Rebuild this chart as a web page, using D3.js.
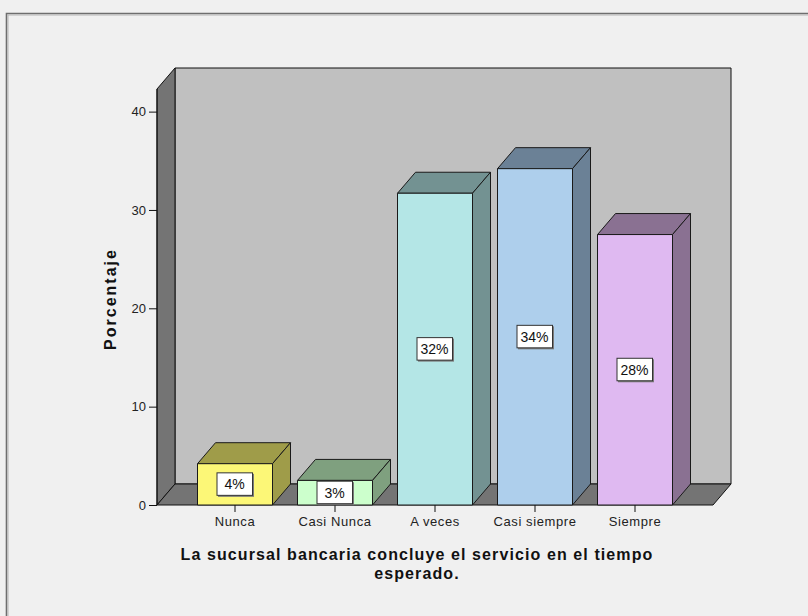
<!DOCTYPE html>
<html>
<head>
<meta charset="utf-8">
<script src="https://cdn.jsdelivr.net/npm/d3@7"></script>
<style>
  html, body { margin: 0; padding: 0; background: #f0f0f0; }
  svg { display: block; }
  text { font-family: "Liberation Sans", Arial, sans-serif; }
</style>
</head>
<body>
<svg id="chart" width="808" height="616"></svg>
<script>
// Response categories and their percentages
const categories = ["Nunca", "Casi Nunca", "A veces", "Casi siempre", "Siempre"];
const percentages = [4.2, 2.5, 31.7, 34.2, 27.5];
const yTicks = [0, 10, 20, 30, 40];
const frontColors = ["#fcf777", "#ccffcc", "#b4e6e6", "#aecfec", "#dfb9f1"];
const sideColors = ["#9f9c49", "#7fa07f", "#739292", "#6b8196", "#8a7192"];
const yTitle = "Porcentaje";
const xTitleLines = ["La sucursal bancaria concluye el servicio en el tiempo", "esperado."];

const svg = d3.select("#chart");

// outer frame
svg.append("rect").attr("x", 0).attr("y", 0).attr("width", 808).attr("height", 616).attr("fill", "#f0f0f0");
svg.append("path").attr("d", "M6.5,616 V13.5 H808").attr("fill", "none").attr("stroke", "#6e6e6e").attr("stroke-width", 1.6);
svg.append("path").attr("d", "M8,616 V15 H808").attr("fill", "none").attr("stroke", "#b4b4b4").attr("stroke-width", 1);

// 3D depth offset
const dx = 18, dy = -21;

const x = d3.scaleBand().domain(categories).range([157, 713]).paddingInner(0.25).paddingOuter(0.405);
const y = d3.scaleLinear().domain([0, 42.3]).range([505, 89]);

const x0 = x.range()[0], x1 = x.range()[1];
const yb = y(0), yt = y(y.domain()[1]);

const walls = svg.append("g").attr("stroke", "#111").attr("stroke-width", 1).attr("stroke-linejoin", "round");
// back wall
walls.append("rect")
  .attr("x", x0 + dx).attr("y", yt + dy)
  .attr("width", x1 - x0).attr("height", yb - yt)
  .attr("fill", "#c0c0c0");
// left wall
walls.append("polygon")
  .attr("points", [[x0, yb], [x0, yt], [x0 + dx, yt + dy], [x0 + dx, yb + dy]].join(" "))
  .attr("fill", "#747474");
// floor
walls.append("polygon")
  .attr("points", [[x0, yb], [x1, yb], [x1 + dx, yb + dy], [x0 + dx, yb + dy]].join(" "))
  .attr("fill", "#747474");

// y axis
const yAxis = d3.axisLeft(y).tickValues(yTicks).tickSize(8).tickPadding(3);
const gy = svg.append("g").attr("transform", `translate(${x0},0)`).call(yAxis);
gy.select(".domain").attr("stroke", "#111").attr("d", `M0,${yb}V${yt}`);
gy.selectAll(".tick line").attr("stroke", "#111");
gy.selectAll(".tick text").attr("font-size", 13).attr("fill", "#222").attr("font-family", "Liberation Sans, Arial, sans-serif");

// x axis ticks and labels
const xAxis = d3.axisBottom(x).tickSize(7).tickPadding(5);
const gx = svg.append("g").attr("transform", `translate(0,${yb})`).call(xAxis);
gx.select(".domain").remove();
gx.selectAll(".tick line").attr("stroke", "#111");
gx.selectAll(".tick text").attr("font-size", 13).attr("letter-spacing", 0.6).attr("fill", "#222").attr("font-family", "Liberation Sans, Arial, sans-serif");

// bars
const data = categories.map((c, i) => ({ c, v: percentages[i], front: frontColors[i], side: sideColors[i] }));
const w = x.bandwidth();
const bars = svg.append("g").selectAll("g").data(data).join("g")
  .attr("stroke", "#1a1a1a").attr("stroke-width", 1).attr("stroke-linejoin", "round");

bars.append("polygon") // top face
  .attr("points", d => {
    const bx = x(d.c), by = y(d.v);
    return [[bx, by], [bx + dx, by + dy], [bx + w + dx, by + dy], [bx + w, by]].join(" ");
  })
  .attr("fill", d => d.side);
bars.append("polygon") // side face
  .attr("points", d => {
    const bx = x(d.c), by = y(d.v);
    return [[bx + w, by], [bx + w + dx, by + dy], [bx + w + dx, yb + dy], [bx + w, yb]].join(" ");
  })
  .attr("fill", d => d.side);
bars.append("rect") // front face
  .attr("x", d => x(d.c)).attr("y", d => y(d.v))
  .attr("width", w).attr("height", d => yb - y(d.v))
  .attr("fill", d => d.front);

// value labels
const fmt = v => Math.round(v) + "%";
const labels = svg.append("g").selectAll("g").data(data).join("g")
  .attr("transform", d => `translate(${x(d.c) + w / 2},${(y(d.v) + yb) / 2})`);
labels.append("rect")
  .attr("x", -17).attr("y", -10.5).attr("width", 36).attr("height", 23)
  .attr("fill", "#7a7a7a");
labels.append("rect")
  .attr("x", -18).attr("y", -11.5).attr("width", 35.5).attr("height", 22.5)
  .attr("fill", "#ffffff").attr("stroke", "#333").attr("stroke-width", 1);
labels.append("text")
  .attr("x", -0.5).attr("y", 5)
  .attr("text-anchor", "middle").attr("font-size", 14).attr("fill", "#111")
  .text(d => fmt(d.v));

// axis titles
svg.append("text")
  .attr("transform", `translate(116,${(yb + yt) / 2 + 2}) rotate(-90)`)
  .attr("text-anchor", "middle").attr("font-size", 16).attr("letter-spacing", 2)
  .attr("font-weight", "bold").attr("fill", "#111")
  .text(yTitle);

const xtCenter = 417;
svg.append("text")
  .attr("x", xtCenter).attr("y", 560)
  .attr("text-anchor", "middle").attr("font-size", 16).attr("letter-spacing", 1.1)
  .attr("font-weight", "bold").attr("fill", "#111")
  .selectAll("tspan").data(xTitleLines).join("tspan")
  .attr("x", xtCenter).attr("dy", (d, i) => i === 0 ? 0 : 19)
  .text(d => d);
</script>
</body>
</html>
